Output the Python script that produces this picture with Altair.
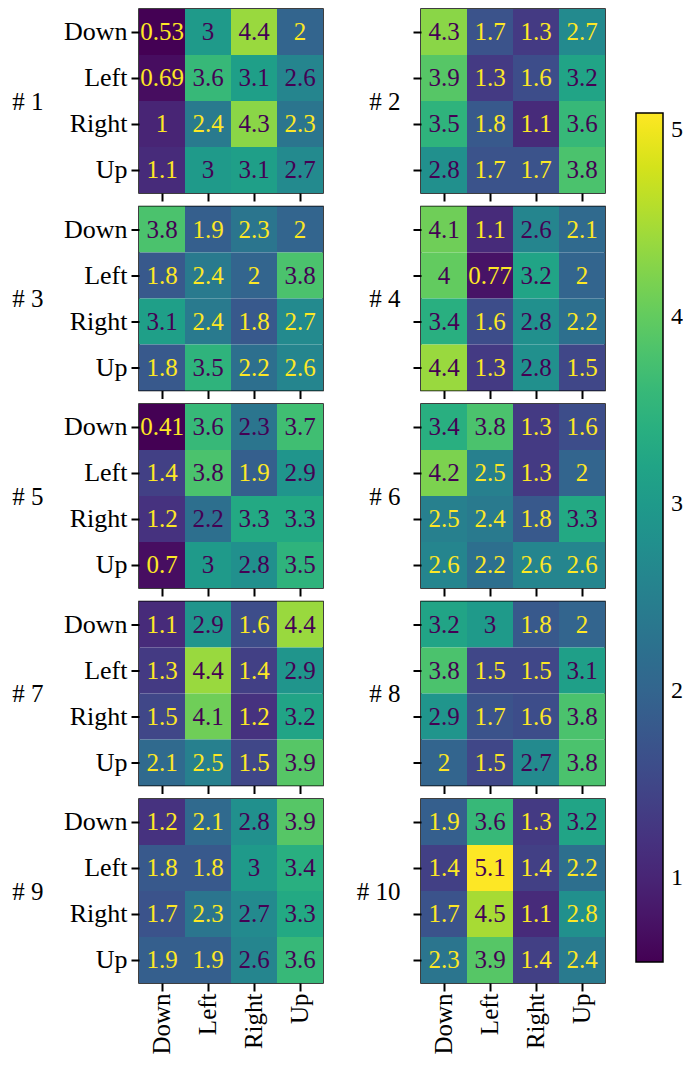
import altair as alt
import pandas as pd

actions = ["Down", "Left", "Right", "Up"]
panel_titles = ["# 1", "# 2", "# 3", "# 4", "# 5", "# 6", "# 7", "# 8", "# 9", "# 10"]

p1 = [[0.53, 3, 4.4, 2], [0.69, 3.6, 3.1, 2.6], [1, 2.4, 4.3, 2.3], [1.1, 3, 3.1, 2.7]]
p2 = [[4.3, 1.7, 1.3, 2.7], [3.9, 1.3, 1.6, 3.2], [3.5, 1.8, 1.1, 3.6], [2.8, 1.7, 1.7, 3.8]]
p3 = [[3.8, 1.9, 2.3, 2], [1.8, 2.4, 2, 3.8], [3.1, 2.4, 1.8, 2.7], [1.8, 3.5, 2.2, 2.6]]
p4 = [[4.1, 1.1, 2.6, 2.1], [4, 0.77, 3.2, 2], [3.4, 1.6, 2.8, 2.2], [4.4, 1.3, 2.8, 1.5]]
p5 = [[0.41, 3.6, 2.3, 3.7], [1.4, 3.8, 1.9, 2.9], [1.2, 2.2, 3.3, 3.3], [0.7, 3, 2.8, 3.5]]
p6 = [[3.4, 3.8, 1.3, 1.6], [4.2, 2.5, 1.3, 2], [2.5, 2.4, 1.8, 3.3], [2.6, 2.2, 2.6, 2.6]]
p7 = [[1.1, 2.9, 1.6, 4.4], [1.3, 4.4, 1.4, 2.9], [1.5, 4.1, 1.2, 3.2], [2.1, 2.5, 1.5, 3.9]]
p8 = [[3.2, 3, 1.8, 2], [3.8, 1.5, 1.5, 3.1], [2.9, 1.7, 1.6, 3.8], [2, 1.5, 2.7, 3.8]]
p9 = [[1.2, 2.1, 2.8, 3.9], [1.8, 1.8, 3, 3.4], [1.7, 2.3, 2.7, 3.3], [1.9, 1.9, 2.6, 3.6]]
p10 = [[1.9, 3.6, 1.3, 3.2], [1.4, 5.1, 1.4, 2.2], [1.7, 4.5, 1.1, 2.8], [2.3, 3.9, 1.4, 2.4]]
panels = [p1, p2, p3, p4, p5, p6, p7, p8, p9, p10]

colorbar_ticks = [1, 2, 3, 4, 5]
colorbar_range = [0.55, 5.09]

DARK = "#440154"
LIGHT = "#fde725"
FONT = "Liberation Serif"

color_scale = alt.Scale(scheme="viridis", domain=colorbar_range, clamp=True)
legend = alt.Legend(
    title="",
    orient="none",
    direction="vertical",
    legendX=497,
    legendY=104,
    gradientLength=849,
    gradientThickness=27,
    gradientStrokeColor="black",
    gradientStrokeWidth=1.5,
    values=colorbar_ticks,
    format="d",
    labelFontSize=24,
    labelFont=FONT,
    labelColor="black",
    labelOffset=8,
    padding=0,
)

charts = []
for k, p in enumerate(panels):
    thr = (min(min(r) for r in p) + max(max(r) for r in p)) / 2
    rows = []
    for i, ra in enumerate(actions):
        for j, ca in enumerate(actions):
            v = p[i][j]
            rows.append({"row": ra, "col": ca, "value": v,
                         "dark": bool(v > thr)})
    df = pd.DataFrame(rows)
    left = (k % 2 == 0)
    bottom = (k // 2 == 4)
    yaxis = alt.Axis(
        title=panel_titles[k], titleAngle=0, titleAlign="right", titleBaseline="middle",
        titleX=-96 if left else -21, titleY=92, titleFontSize=25, titleFont=FONT,
        titleFontWeight="normal", titleColor="black",
        labels=left, ticks=True, tickSize=8, tickWidth=2, tickColor="black",
        domain=False, labelFontSize=26, labelFont=FONT, labelColor="black", labelPadding=4,
    )
    xaxis = alt.Axis(
        title="", labels=bottom, labelAngle=-90, ticks=True, tickSize=8, tickWidth=2,
        tickColor="black", domain=False, labelFontSize=25, labelFont=FONT,
        labelColor="black", labelPadding=2,
    )
    base = alt.Chart(df)
    rect = base.mark_rect().encode(
        x=alt.X("col:N", sort=actions, axis=xaxis),
        y=alt.Y("row:N", sort=actions, axis=yaxis),
        color=alt.Color("value:Q", scale=color_scale, legend=legend),
    )
    text_dark = base.mark_text(fontSize=25, font=FONT, align="center", baseline="middle",
                               color=DARK).encode(
        x=alt.X("col:N", sort=actions),
        y=alt.Y("row:N", sort=actions),
        text=alt.Text("value:Q", format=".2~g"),
    ).transform_filter("datum.dark")
    text_light = base.mark_text(fontSize=25, font=FONT, align="center", baseline="middle",
                                color=LIGHT).encode(
        x=alt.X("col:N", sort=actions),
        y=alt.Y("row:N", sort=actions),
        text=alt.Text("value:Q", format=".2~g"),
    ).transform_filter("!datum.dark")
    charts.append((rect + text_dark + text_light).properties(width=184, height=184))

chart = alt.concat(*charts, columns=2, spacing={"row": 13.5, "column": 98}, bounds="flush").properties(
    padding={"left": 3, "top": 0, "right": 0, "bottom": 0}
).configure_view(
    stroke="black", strokeWidth=1.5
).configure_axis(
    grid=False
).configure_text(
    font=FONT
)

chart.save("out.html", embed_options={"renderer": "svg", "actions": False})
